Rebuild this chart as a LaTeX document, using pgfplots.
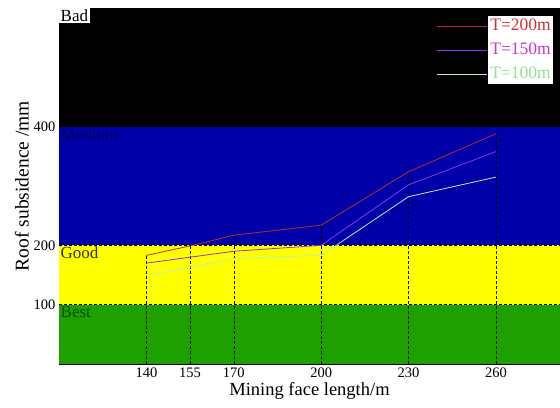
\documentclass[border=0pt]{standalone}
\usepackage{pgfplots}
\pgfplotsset{compat=1.18}
\usepackage{fontspec}
\setmainfont{Liberation Serif}
\definecolor{bandblue}{RGB}{0,0,168}
\definecolor{bandyellow}{RGB}{255,255,0}
\definecolor{bandgreen}{RGB}{30,160,0}
\definecolor{lred}{RGB}{190,40,40}
\definecolor{lpurple}{RGB}{150,50,230}
\definecolor{lgreen}{RGB}{185,240,185}
\definecolor{tred}{RGB}{210,50,50}
\definecolor{tmag}{RGB}{210,50,210}
\definecolor{tgreen}{RGB}{150,225,150}
\begin{document}
\begin{tikzpicture}
\begin{axis}[
  scale only axis, width=501pt, height=356pt,
  xmin=110, xmax=282, ymin=0, ymax=600,
  xtick={140,155,170,200,230,260}, ytick={100,200,400},
  major tick length=0pt,
  /pgf/number format/assume math mode=true,
  tick label style={font=\fontsize{14.5}{14.5}\selectfont},
  xlabel={Mining face length/m}, ylabel={Roof subsidence /mm},
  xlabel style={font=\fontsize{18.5}{18.5}\selectfont, yshift=2pt},
  ylabel style={font=\fontsize{19.5}{19.5}\selectfont, yshift=-2pt},
  axis line style={line width=0.8pt},
  legend style={at={(0.986,0.978)}, anchor=north east, fill=white, draw=none,
    font=\fontsize{17.5}{17.5}\selectfont, inner sep=1pt, row sep=6pt,
    nodes={inner sep=1pt, text height=12.5pt, text depth=3.5pt}},
  legend cell align=left,
  legend image code/.code={\draw[#1,overlay] (-52pt,0pt) -- (-2pt,0pt);},
]
\addplot[fill=black, draw=none, forget plot] coordinates {(110,400) (282,400) (282,600) (110,600)} -- cycle;
\addplot[fill=bandblue, draw=none, forget plot] coordinates {(110,200) (282,200) (282,400) (110,400)} -- cycle;
\addplot[fill=bandyellow, draw=none, forget plot] coordinates {(110,100) (282,100) (282,200) (110,200)} -- cycle;
\addplot[fill=bandgreen, draw=none, forget plot] coordinates {(110,0) (282,0) (282,100) (110,100)} -- cycle;
\addplot[black, dash pattern=on 3pt off 2pt, forget plot] coordinates {(110,200) (282,200)};
\addplot[black, dash pattern=on 3pt off 2pt, forget plot] coordinates {(110,100) (282,100)};
\addplot[ycomb, black, dash pattern=on 3pt off 2pt, forget plot] coordinates {(140,183) (155,199) (170,217) (200,234) (230,324) (260,388)};
\addplot[lred, line width=0.8pt] coordinates {(140,183) (155,199) (170,217) (200,234) (230,324) (260,388)};
\addlegendentry{\textcolor{tred}{T=200m}}
\addplot[lpurple, line width=0.8pt] coordinates {(140,170) (155,180) (170,190) (200,200) (230,302) (260,358)};
\addlegendentry{\textcolor{tmag}{T=150m}}
\addplot[lgreen, line width=0.8pt] coordinates {(140,149) (155,163) (170,178) (200,183) (230,282) (260,315)};
\addlegendentry{\textcolor{tgreen}{T=100m}}
\node[anchor=north west, fill=white, inner sep=1.5pt, font=\fontsize{17}{17}\selectfont] at (axis cs:110,600) {Bad};
\node[anchor=north west, inner sep=1.5pt, text={rgb,255:red,0;green,0;blue,100}, font=\fontsize{17}{17}\selectfont] at (axis cs:110,400) {Medium};
\node[anchor=north west, inner sep=1.5pt, text={rgb,255:red,50;green,50;blue,0}, font=\fontsize{17}{17}\selectfont] at (axis cs:110,200) {Good};
\node[anchor=north west, inner sep=1.5pt, text={rgb,255:red,10;green,80;blue,0}, font=\fontsize{17}{17}\selectfont] at (axis cs:110,100) {Best};
\end{axis}
\pgfresetboundingbox
\path[use as bounding box] (current axis.south west) ++(-59pt,-44pt) rectangle ([yshift=8pt]current axis.north east);
\end{tikzpicture}
\end{document}
